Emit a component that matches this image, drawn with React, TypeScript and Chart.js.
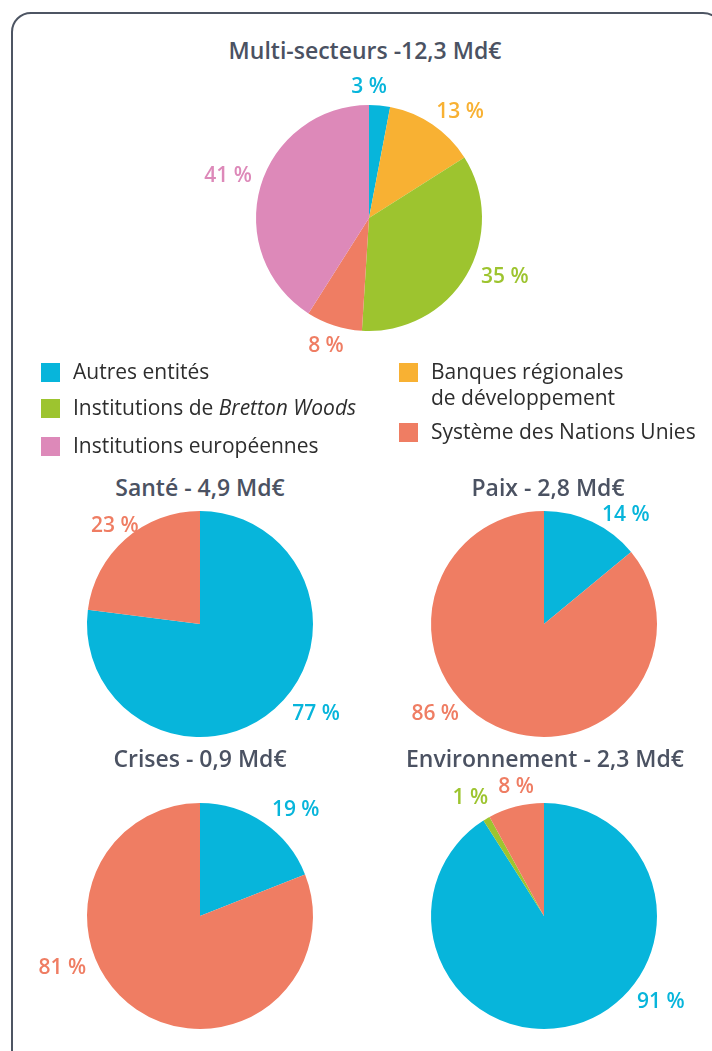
import React, { useEffect, useRef } from "react";
import { Chart, registerables } from "chart.js";

Chart.register(...registerables);

// ---- Data ----
const multiCategories = [
  "Autres entités",
  "Banques régionales de développement",
  "Institutions de Bretton Woods",
  "Système des Nations Unies",
  "Institutions européennes",
];
const multiValues = [3, 13, 35, 8, 41];

const santeCategories = ["Autres entités", "Système des Nations Unies"];
const santeValues = [77, 23];

const paixCategories = ["Autres entités", "Système des Nations Unies"];
const paixValues = [14, 86];

const crisesCategories = ["Autres entités", "Système des Nations Unies"];
const crisesValues = [19, 81];

const envCategories = ["Autres entités", "Institutions de Bretton Woods", "Système des Nations Unies"];
const envValues = [91, 1, 8];

// ---- Styles ----
const COLOR: Record<string, string> = {
  "Autres entités": "#07b5db",
  "Banques régionales de développement": "#f8b133",
  "Institutions de Bretton Woods": "#9dc42f",
  "Système des Nations Unies": "#ef7d63",
  "Institutions européennes": "#dd89b9",
};
const TITLE_COLOR = "#4b5262";
const FONT = "'Open Sans', 'DejaVu Sans', sans-serif";

// label placement (polar: degrees clockwise from top, distance from centre)
type LabelPos = { angle: number; dist: number };

const labelPlugin = {
  id: "outLabels",
  afterDraw(chart: any, _args: any, opts: any) {
    const ctx = chart.ctx;
    const meta = chart.getDatasetMeta(0);
    const ds = chart.data.datasets[0];
    const positions: LabelPos[] = opts.positions || [];
    ctx.save();
    ctx.font = `600 21px ${FONT}`;
    ctx.textAlign = "center";
    ctx.textBaseline = "middle";
    meta.data.forEach((arc: any, i: number) => {
      const p = positions[i];
      if (!p) return;
      const a = (p.angle * Math.PI) / 180;
      const x = arc.x + Math.sin(a) * p.dist;
      const y = arc.y - Math.cos(a) * p.dist;
      ctx.fillStyle = ds.backgroundColor[i];
      ctx.fillText(`${ds.data[i]} %`, x, y);
    });
    ctx.restore();
  },
};

const R = 113;
const CW = 380;
const CH = 320;

function Pie(props: {
  cx: number;
  cy: number;
  categories: string[];
  values: number[];
  positions: LabelPos[];
}) {
  const ref = useRef<HTMLCanvasElement>(null);
  useEffect(() => {
    if (!ref.current) return;
    const padX = (CW - 2 * R) / 2;
    const padY = (CH - 2 * R) / 2;
    const chart = new Chart(ref.current, {
      type: "pie",
      data: {
        labels: props.categories,
        datasets: [
          {
            data: props.values,
            backgroundColor: props.categories.map((c) => COLOR[c]),
            borderWidth: 0,
          },
        ],
      },
      options: {
        animation: false,
        responsive: false,
        maintainAspectRatio: false,
        layout: { padding: { left: padX, right: padX, top: padY, bottom: padY } },
        plugins: {
          legend: { display: false },
          tooltip: { enabled: false },
          title: { display: false },
          outLabels: { positions: props.positions },
        } as any,
      },
      plugins: [labelPlugin],
    });
    return () => chart.destroy();
  }, []);
  return (
    <canvas
      ref={ref}
      width={CW}
      height={CH}
      style={{
        position: "absolute",
        left: props.cx - CW / 2,
        top: props.cy - CH / 2,
        width: CW,
        height: CH,
      }}
    />
  );
}

function Title(props: { x: number; y: number; text: string }) {
  return (
    <div
      style={{
        position: "absolute",
        left: props.x - 200,
        top: props.y - 16,
        width: 400,
        height: 32,
        lineHeight: "32px",
        textAlign: "center",
        font: `600 23px ${FONT}`,
        color: TITLE_COLOR,
        whiteSpace: "nowrap",
      }}
    >
      {props.text}
    </div>
  );
}

function LegendItem(props: { x: number; y: number; color: string; children: React.ReactNode }) {
  return (
    <div style={{ position: "absolute", left: props.x, top: props.y }}>
      <div
        style={{
          position: "absolute",
          left: 0,
          top: 0,
          width: 19,
          height: 19,
          background: props.color,
        }}
      />
      <div
        style={{
          position: "absolute",
          left: 32,
          top: -5,
          font: `400 21px ${FONT}`,
          lineHeight: "26px",
          color: "#2d2d2d",
          whiteSpace: "nowrap",
        }}
      >
        {props.children}
      </div>
    </div>
  );
}

export default function App() {
  return (
    <div
      style={{
        position: "absolute",
        left: 0,
        top: 0,
        width: 712,
        height: 1051,
        overflow: "hidden",
        background: "#ffffff",
      }}
    >
      <div
        style={{
          position: "absolute",
          left: 11,
          top: 12,
          width: 712,
          height: 1060,
          border: "2px solid #4d5563",
          borderRadius: 20,
          boxSizing: "border-box",
        }}
      />
      <Title x={365} y={50} text="Multi-secteurs -12,3 Md€" />
      <Pie
        cx={369}
        cy={218}
        categories={multiCategories}
        values={multiValues}
        positions={[
          { angle: 0, dist: 131 },
          { angle: 40.6, dist: 140 },
          { angle: 113.5, dist: 148 },
          { angle: 198.6, dist: 135 },
          { angle: 286.6, dist: 147 },
        ]}
      />

      <LegendItem x={41} y={363} color={COLOR["Autres entités"]}>Autres entités</LegendItem>
      <LegendItem x={41} y={399} color={COLOR["Institutions de Bretton Woods"]}>
        Institutions de <i>Bretton Woods</i>
      </LegendItem>
      <LegendItem x={41} y={437} color={COLOR["Institutions européennes"]}>Institutions européennes</LegendItem>
      <LegendItem x={399} y={363} color={COLOR["Banques régionales de développement"]}>
        Banques régionales
        <br />
        de développement
      </LegendItem>
      <LegendItem x={399} y={423} color={COLOR["Système des Nations Unies"]}>Système des Nations Unies</LegendItem>

      <Title x={200} y={487} text="Santé - 4,9 Md€" />
      <Pie
        cx={200}
        cy={624}
        categories={santeCategories}
        values={santeValues}
        positions={[
          { angle: 127.8, dist: 147 },
          { angle: 319, dist: 130 },
        ]}
      />
      <Title x={548} y={487} text="Paix - 2,8 Md€" />
      <Pie
        cx={544}
        cy={624}
        categories={paixCategories}
        values={paixValues}
        positions={[
          { angle: 37, dist: 136 },
          { angle: 230.5, dist: 141 },
        ]}
      />
      <Title x={200} y={758} text="Crises - 0,9 Md€" />
      <Pie
        cx={200}
        cy={916}
        categories={crisesCategories}
        values={crisesValues}
        positions={[
          { angle: 42, dist: 143 },
          { angle: 249.4, dist: 147 },
        ]}
      />
      <Title x={545} y={758} text="Environnement - 2,3 Md€" />
      <Pie
        cx={544}
        cy={916}
        categories={envCategories}
        values={envValues}
        positions={[
          { angle: 126.3, dist: 145 },
          { angle: 328, dist: 139 },
          { angle: 347.8, dist: 132 },
        ]}
      />
    </div>
  );
}
